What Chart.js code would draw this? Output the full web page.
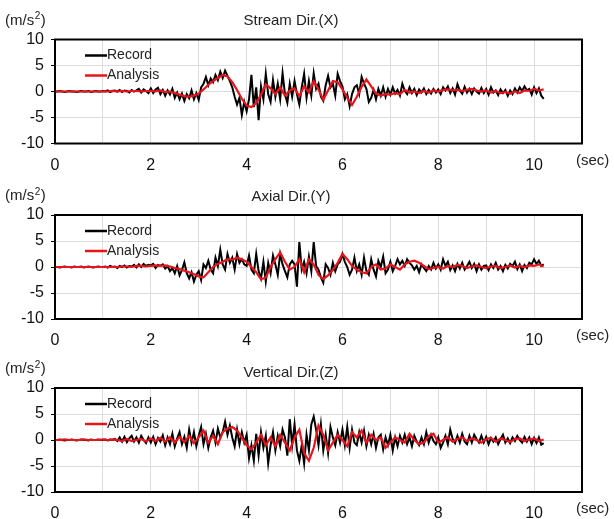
<!DOCTYPE html>
<html lang="en">
<head>
  <meta charset="UTF-8" />
  <title>Acceleration Records</title>
  <script src="https://cdn.jsdelivr.net/npm/chart.js"></script>
  <style>
    body {
      margin: 0;
      background: #fff;
      font-family: "Liberation Sans", Arial, sans-serif;
    }
    .panel {
      position: relative;
      width: 614px;
    }
    canvas {
      display: block;
    }
  </style>
</head>
<body>
  <div class="panel"><canvas id="chartX" width="614" height="175"></canvas></div>
  <div class="panel"><canvas id="chartY" width="614" height="175"></canvas></div>
  <div class="panel"><canvas id="chartZ" width="614" height="169"></canvas></div>

  <script>
    const titles = ["Stream Dir.(X)", "Axial Dir.(Y)", "Vertical Dir.(Z)"];
    const seriesNames = ["Record", "Analysis"];
    const xTicks = [0, 2, 4, 6, 8, 10];
    const yTicks = [-10, -5, 0, 5, 10];
    const recordStep = 0.05;   // sec between record samples
    const analysisStep = 0.1;  // sec between analysis samples

    // Stream direction (X), one line per second
    const streamRecord = [
      0,0,0.1,0,-0.1,0,0.1,0,0,-0.1,0,0.1,0,0,0.1,-0.1,0,0.1,0,0,
      0.1,0,0.2,-0.1,0.1,0.2,0,0.3,-0.1,0.2,0.1,-0.2,0.3,0,0.2,0.5,-0.2,0.4,0.1,-0.3,
      0.6,-0.3,0.4,0.7,-0.5,0.3,-0.8,0.2,-0.6,0.5,-1.2,-0.2,-1.5,-0.4,-1.8,-0.5,-1.3,0.2,-1.5,-0.3,
      -1.6,0.8,1.5,2.8,1.2,2.5,1.8,3.2,2.2,3.8,2.6,4.0,3.0,2.0,0.8,-1.0,-2.5,-1.2,-4.5,-2.0,
      -3.8,-1.5,3.2,-3.0,0.8,-5.5,1.0,-1.5,3.4,-0.5,-2.0,2.2,-1.0,1.5,-1.5,3.5,-0.5,-2.2,1.5,-1.0,
      2.0,-0.5,-2.5,0.8,3.4,-1.2,2.0,-0.8,3.5,0.5,1.5,-1.0,-1.8,1.2,3.0,0.8,1.5,-0.8,3.4,2.0,
      1.0,-1.5,-0.5,-2.8,-0.5,0.8,1.2,-0.5,2.8,1.5,0.5,-2.0,-1.2,0.3,-1.5,0.5,-0.8,0.8,-1.0,0.5,
      -0.6,0.8,-0.4,0.3,-0.8,1.5,0.2,-0.5,0.8,-0.3,0.5,-0.7,0.4,-0.2,0.6,-0.5,0.3,-0.4,0.5,-0.2,
      0.4,-0.5,0.8,0.2,1.0,-0.3,0.6,-0.6,1.4,0.2,-0.4,0.9,-0.2,0.5,-0.5,0.6,0,-0.4,0.7,-0.3,
      0.5,-0.6,0.8,-0.2,0.2,-0.7,0.4,-0.3,0.3,-0.8,0.2,-0.5,0.6,-0.2,0.8,0.1,1.0,0.2,0.5,-0.6,
      0.8,-0.3,0.6,-0.8,-1.4
    ];
    const streamAnalysis = [
      0,0,0,0,0,0,0,0,0,0,
      0,0,0.1,0,0.1,0,0.1,0.1,0,0.1,
      0.1,0,0.2,-0.1,0,-0.3,-0.6,-0.9,-1.0,-0.8,
      -0.4,0.4,1.3,2.0,2.6,3.2,2.9,1.8,0.3,-1.4,
      -2.7,-3.0,-2.2,-0.6,1.4,0.6,-0.5,0.8,-0.8,0.2,
      0.6,-0.9,1.0,-0.2,2.0,0.4,-1.6,0.2,2.0,1.8,
      0.4,-1.2,-2.6,-1.0,0.9,2.3,1.0,-0.4,-0.8,-0.5,
      -0.6,-0.3,-0.5,0.3,-0.2,0,-0.3,0.1,-0.2,0.2,
      0,0.3,0.4,0.2,0.3,0.1,0.3,0.5,0.2,0,
      0.2,-0.2,0.1,-0.3,-0.1,-0.4,0,-0.3,0.2,0.1,
      0.5,0.2,0.4
    ];

    // Axial direction (Y)
    const axialRecord = [
      0,0,-0.1,0,0.1,0,0,-0.1,0.1,0,0,0.1,-0.1,0,0.1,0,-0.1,0,0.1,0,
      0,0.1,-0.1,0.2,0,0.1,-0.2,0.2,0,0.3,-0.1,0.2,0.1,0.4,-0.1,0.5,0,0.6,0.2,0.4,
      0.3,0.6,-0.2,0.4,0.2,0.5,-0.3,0.2,-0.8,-0.2,-1.2,0.2,-1.6,-0.6,0.9,-1.2,-2.2,-1.0,-2.8,-1.5,
      -0.8,-2.5,0.5,-0.2,1.2,-0.5,-1.2,1.8,0.2,3.3,0.5,-0.5,2.5,0.8,1.8,-0.5,2.5,0.8,1.5,0.5,
      0.2,2.2,-0.5,-1.2,2.5,-0.8,-2.2,1.0,-2.8,0.8,-1.2,2.2,0.5,-1.5,2.5,0.5,-0.8,-2.0,0.5,1.2,
      0.5,-3.8,4.8,-0.5,1.0,-1.2,2.0,-0.8,4.8,0.2,-0.5,-2.0,-3.0,0.5,-0.2,-1.5,0.8,-0.8,0.5,1.0,
      2.5,1.0,0,-1.5,-0.5,1.8,-0.8,0.5,-1.5,1.8,-0.8,-1.5,1.5,-0.5,-1.8,1.2,0,2.0,-1.2,-0.5,
      1.0,-0.8,0.2,1.5,0.5,1.2,0.2,1.5,0.8,0.3,-0.5,0.2,-1.0,0.5,-0.2,-0.8,0.2,-0.5,0.8,-0.3,
      0.5,-0.5,1.5,0.2,1.0,-0.6,0.3,-0.8,0.6,-0.3,0.8,-0.5,0.2,1.0,-0.2,0.6,-0.8,0.5,-0.5,0.2,
      0.3,-0.6,0.5,-0.2,0.8,-0.5,0.2,-0.8,0.4,-0.3,0.6,0.2,1.0,-0.4,0.5,-0.8,0.4,-0.2,0.8,0.5,
      1.5,0.6,1.2,0.2,0.5
    ];
    const axialAnalysis = [
      0,0,0,0,0,0,0,0,0,0,
      0,0,0,0,0.1,0.1,0,0.2,0.2,0.1,
      0.2,0.3,0.2,0.3,0.1,-0.2,-0.4,-0.7,-1.0,-1.4,
      -1.8,-2.0,-1.0,0,0.6,1.0,1.5,1.4,1.8,1.5,
      1.0,0,-1.0,-2.4,-2.0,0,1.5,2.8,1.0,-0.5,
      0,1.5,-1.0,1.5,0.5,-1.5,-2.3,-1.6,-0.6,0.8,
      2.5,1.5,0.2,-0.5,-1.0,-1.2,0,0.5,-0.5,-0.3,
      0.5,0,-0.5,0.5,1.0,1.2,0.8,0.2,-0.4,-0.2,
      0,-0.3,0.2,0,0.4,0.2,-0.2,0.1,0.3,0,
      -0.2,0.1,0.2,-0.2,0,0.3,-0.1,0.2,0,0.3,
      0.2,0.5,0.1
    ];

    // Vertical direction (Z)
    const verticalRecord = [
      0,0,0.1,0,-0.1,0,0,0.1,0,-0.1,0,0.1,0,0,-0.1,0.1,0,0,0.1,0,
      0,0.1,-0.1,0.1,0,0.2,-0.2,0.5,-0.3,0.6,-0.4,0.3,0.8,-0.3,0.5,-0.5,0.8,0,-0.6,0.5,
      -0.5,0.6,-0.8,0.4,-0.3,0.9,-1.0,0.5,-0.8,1.2,-1.2,0.3,1.5,-0.8,0.6,-1.5,2.0,-0.5,1.5,-1.2,
      0.8,2.5,-0.8,1.2,-1.5,0.5,1.8,-0.5,2.2,0.5,1.5,3.5,1.0,2.8,0.5,-1.2,2.0,-0.8,1.5,-0.5,
      1.0,-3.5,-1.0,-4.0,1.2,-3.0,1.5,-1.5,0.8,-4.5,-1.0,1.5,-2.0,0.8,-1.2,2.0,0.5,-3.0,4.0,-1.0,
      3.0,-2.0,-4.0,-1.0,-4.5,1.0,-2.0,3.0,4.5,2.0,-1.0,3.0,-2.0,1.0,-2.5,2.5,0.5,-1.0,1.5,-0.5,
      2.0,-1.0,2.5,-1.5,2.0,-0.5,-1.0,1.5,-0.5,1.8,-1.2,1.0,-0.8,1.2,-1.5,0.5,1.0,-1.8,0.5,-1.0,
      1.0,-2.0,0.5,-1.2,0.8,-0.5,1.0,-0.8,0.5,-1.2,0.8,-0.3,-1.0,0.5,-0.8,1.5,-0.5,1.0,-0.2,-0.8,
      0.5,-1.5,-0.5,0.8,-0.8,2.0,0.2,-0.6,0.8,-0.5,1.2,-0.3,-0.8,0.8,-0.5,1.0,0.2,-0.5,0.8,-0.5,
      0.6,-0.8,0.4,-0.3,0.5,-0.8,0.2,1.0,-0.5,0.3,-0.6,0.5,-0.2,0.8,0,-0.5,0.6,-0.3,0.5,-0.8,
      0.4,-0.6,0.5,-0.9,-0.6
    ];
    const verticalAnalysis = [
      0,0,0.1,0,0,0,0.1,0,0,0,
      0.1,0,0.1,0,-0.2,0.2,-0.2,0,0.2,-0.3,
      0.3,-0.2,0.4,-0.3,0.5,-0.5,0.6,-0.4,0.8,-0.6,
      0.5,1.8,-0.5,0.8,-0.8,1.5,2.2,2.5,1.8,0.5,
      -1.0,-1.8,-0.5,1.0,-1.0,0.5,-1.2,1.0,-0.5,-2.0,
      0.5,2.0,-2.5,-4.0,-1.5,2.8,1.0,-2.0,-0.5,1.0,
      0,-1.2,1.5,0.5,1.8,-0.5,1.0,0,0.5,-1.5,
      -0.5,0.5,0,-0.5,1.2,0,-0.8,-0.5,0.8,1.2,
      -0.5,0,0.5,-0.3,0.2,0.5,-0.2,0.3,0,-0.5,
      0.2,0.4,-0.3,0.3,0,-0.4,0.2,0.3,-0.2,0.1,
      0.3,-0.2,0.1
    ];

    const FONT = '"Liberation Sans", Arial, sans-serif';

    const toPoints = (values, step) =>
      values.map((v, i) => ({ x: +(i * step).toFixed(2), y: v }));

    // frame, inset legend and unit labels
    const extras = {
      id: "extras",
      afterDraw(chart) {
        const { ctx, chartArea: a } = chart;
        ctx.save();
        ctx.lineWidth = 2;
        ctx.strokeStyle = "#000";
        ctx.strokeRect(a.left, a.top, a.right - a.left, a.bottom - a.top);

        ctx.font = "14px " + FONT;
        ctx.textBaseline = "middle";
        ctx.textAlign = "left";
        chart.data.datasets.forEach((ds, i) => {
          const y = a.top + 16 + i * 20;
          ctx.strokeStyle = ds.borderColor;
          ctx.lineWidth = 2.5;
          ctx.beginPath();
          ctx.moveTo(a.left + 30, y);
          ctx.lineTo(a.left + 52, y);
          ctx.stroke();
          ctx.fillStyle = "#222";
          ctx.fillText(ds.label, a.left + 52, y);
        });

        // (m/s2) with a raised 2
        ctx.fillStyle = "#222";
        let x = 5;
        const uy = a.top - 19;
        ctx.font = "15px " + FONT;
        ctx.fillText("(m/s", x, uy);
        x += ctx.measureText("(m/s").width;
        ctx.font = "10px " + FONT;
        ctx.fillText("2", x + 0.5, uy - 4);
        x += ctx.measureText("2").width + 1;
        ctx.font = "15px " + FONT;
        ctx.fillText(")", x, uy);

        ctx.fillText("(sec)", a.right - 6, a.bottom + 17);
        ctx.restore();
      }
    };

    function drawPanel(id, title, record, analysis, box) {
      const ctx = document.getElementById(id).getContext("2d");
      const h = ctx.canvas.height;
      new Chart(ctx, {
        type: "line",
        data: {
          datasets: [
            {
              label: seriesNames[0],
              data: toPoints(record, recordStep),
              borderColor: "#000000",
              borderWidth: 2,
              pointRadius: 0,
              tension: 0,
              order: 1
            },
            {
              label: seriesNames[1],
              data: toPoints(analysis, analysisStep),
              borderColor: "#e8141c",
              borderWidth: 2.2,
              pointRadius: 0,
              tension: 0,
              order: 0
            }
          ]
        },
        options: {
          responsive: false,
          animation: false,
          layout: { padding: { left: 0, right: 32, top: 0, bottom: 0 } },
          plugins: {
            legend: { display: false },
            tooltip: { enabled: false },
            title: {
              display: true,
              text: title,
              color: "#222",
              font: { family: FONT, size: 15, weight: "normal" },
              padding: { top: box.titleY - 9, bottom: box.top - box.titleY - 9 }
            }
          },
          scales: {
            x: {
              type: "linear",
              min: 0,
              max: 11,
              afterFit: (s) => { s.height = h - box.bottom; },
              grid: { color: "#dcdcdc", lineWidth: 1, drawTicks: false },
              border: { display: false },
              ticks: {
                stepSize: 1,
                autoSkip: false,
                maxRotation: 0,
                padding: 12,
                color: "#111",
                font: { family: FONT, size: 16 },
                callback: (v) => (xTicks.includes(v) ? String(v) : "")
              }
            },
            y: {
              min: yTicks[0],
              max: yTicks[yTicks.length - 1],
              afterFit: (s) => { s.width = 55; },
              grid: { color: "#dcdcdc", lineWidth: 1, tickLength: 4, tickColor: "#000" },
              border: { display: false },
              ticks: {
                stepSize: 5,
                padding: 7,
                color: "#111",
                font: { family: FONT, size: 16 },
                callback: (v) => (yTicks.includes(v) ? String(v) : "")
              }
            }
          }
        },
        plugins: [extras]
      });
    }

    drawPanel("chartX", titles[0], streamRecord, streamAnalysis, { titleY: 21, top: 39.5, bottom: 143.5 });
    drawPanel("chartY", titles[1], axialRecord, axialAnalysis, { titleY: 22, top: 40, bottom: 144 });
    drawPanel("chartZ", titles[2], verticalRecord, verticalAnalysis, { titleY: 23, top: 38, bottom: 142 });
  </script>
</body>
</html>
